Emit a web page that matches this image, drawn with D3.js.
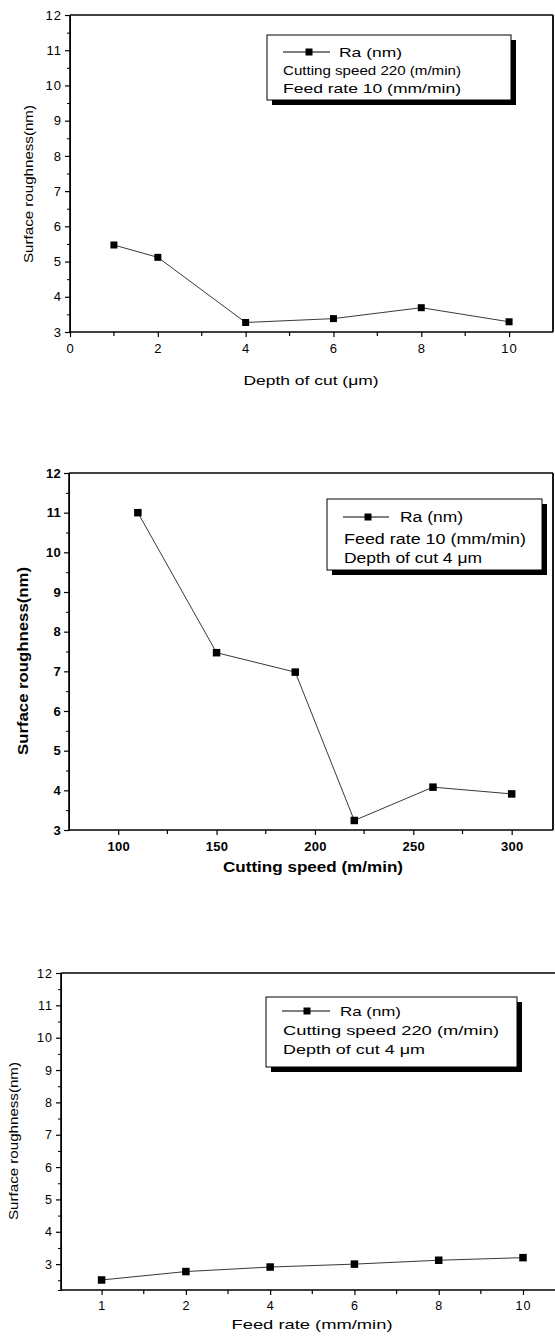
<!DOCTYPE html>
<html>
<head>
<meta charset="utf-8">
<script src="https://cdn.jsdelivr.net/npm/d3@7"></script>
<style>
body { margin: 0; background: #fff; }
svg { display: block; }
</style>
</head>
<body>
<div id="chart"></div>
<script>
// data
var depthX = [1, 2, 4, 6, 8, 10];
var depthRa = [5.47, 5.12, 3.27, 3.38, 3.69, 3.29];

var speedX = [110, 150, 190, 220, 260, 300];
var speedRa = [11.0, 7.47, 6.98, 3.24, 4.08, 3.91];

var feedX = ["1", "2", "4", "6", "8", "10"];
var feedRa = [2.51, 2.77, 2.91, 3.0, 3.12, 3.2];

var raTicks = [3, 4, 5, 6, 7, 8, 9, 10, 11, 12];
var depthTicks = [0, 2, 4, 6, 8, 10];
var speedTicks = [100, 150, 200, 250, 300];

var legendDepth = ["Ra (nm)", "Cutting speed 220 (m/min)", "Feed rate 10 (mm/min)"];
var legendSpeed = ["Ra (nm)", "Feed rate 10 (mm/min)", "Depth of cut 4 \u03bcm"];
var legendFeed = ["Ra (nm)", "Cutting speed 220 (m/min)", "Depth of cut 4 \u03bcm"];

function init() {
	var width = 555, height = 1339;
	var font = "'Liberation Sans', Arial, Helvetica, sans-serif";

	var svg = d3.select("#chart").append("svg")
		.attr("width", width)
		.attr("height", height)
		.style("font-family", font);

	function panel(p) {
		var g = svg.append("g");
		var x;
		if (p.point) {
			x = d3.scalePoint().domain(p.xs).range(p.xr);
		} else {
			x = d3.scaleLinear().domain(p.xd).range([p.left, p.right]);
		}
		var y = d3.scaleLinear().domain(p.yd).range([p.bottom, p.top]);
		var weight = p.bold ? "bold" : "normal";

		// frame
		g.append("line").attr("x1", p.left).attr("x2", p.frameRight)
			.attr("y1", p.top).attr("y2", p.top)
			.attr("stroke", "#000").attr("stroke-width", 1.6);
		if (p.frameRight < width) {
			g.append("line").attr("x1", p.frameRight).attr("x2", p.frameRight)
				.attr("y1", p.top).attr("y2", p.bottom)
				.attr("stroke", "#000").attr("stroke-width", 1.8);
		}

		// minor ticks
		var yMinor = d3.axisLeft(y).tickValues(p.yMinor).tickSize(3).tickFormat("");
		g.append("g").attr("transform", "translate(" + p.left + ",0)").call(yMinor);
		var gx2 = g.append("g").attr("transform", "translate(0," + p.bottom + ")");
		gx2.selectAll("line").data(p.xMinor).enter().append("line")
			.attr("x1", function(d) { return d; }).attr("x2", function(d) { return d; })
			.attr("y1", 0).attr("y2", 4)
			.attr("stroke", "#000").attr("stroke-width", 1.2);

		// major y axis
		var yAxis = d3.axisLeft(y).tickValues(raTicks).tickSize(5).tickPadding(3);
		var gy = g.append("g").attr("transform", "translate(" + p.left + ",0)").call(yAxis);
		gy.select(".domain").attr("d", "M0," + p.bottom + "V" + p.top).attr("stroke-width", 1.6);

		// major x axis
		var xAxis = d3.axisBottom(x).tickSize(5).tickPadding(p.xPad);
		if (!p.point) xAxis.tickValues(p.xTicks);
		var gx = g.append("g").attr("transform", "translate(0," + p.bottom + ")").call(xAxis);
		gx.select(".domain").attr("d", "M" + p.left + ",0H" + p.frameRight).attr("stroke-width", 1.6);

		[gx, gy].forEach(function(a) {
			a.selectAll(".tick line").attr("stroke-width", 1.2);
			a.selectAll("text")
				.style("font-family", font)
				.style("font-size", p.tickSize + "px")
				.style("font-weight", weight)
				.style("letter-spacing", p.tickSpacing + "px")
				.attr("fill", "#000");
		});

		// series
		var pts = p.xv.map(function(d, i) { return [x(d), y(p.yv[i])]; });
		g.append("path")
			.attr("d", d3.line()(pts))
			.attr("fill", "none")
			.attr("stroke", "#222")
			.attr("stroke-width", 0.9);
		g.selectAll("rect.pt").data(pts).enter().append("rect")
			.attr("class", "pt")
			.attr("x", function(d) { return d[0] - p.ms / 2; })
			.attr("y", function(d) { return d[1] - p.ms / 2; })
			.attr("width", p.ms).attr("height", p.ms)
			.attr("fill", "#000");

		// axis titles
		g.append("text")
			.attr("x", p.xl[0]).attr("y", p.xl[1])
			.attr("text-anchor", "middle")
			.attr("textLength", p.xl[2]).attr("lengthAdjust", "spacingAndGlyphs")
			.style("font-size", p.labelSize + "px")
			.style("font-weight", weight)
			.text(p.xTitle);
		g.append("text")
			.attr("transform", "translate(" + p.yl[0] + "," + p.yl[1] + ") rotate(-90)")
			.attr("text-anchor", "middle")
			.attr("dy", "0.35em")
			.attr("textLength", p.yl[2]).attr("lengthAdjust", "spacingAndGlyphs")
			.style("font-size", p.labelSize + "px")
			.style("font-weight", weight)
			.text("Surface roughness(nm)");

		// legend box with shadow
		var L = p.legend;
		g.append("rect").attr("x", L.x0 + 5).attr("y", L.y0 + 5)
			.attr("width", L.x1 - L.x0).attr("height", L.y1 - L.y0)
			.attr("fill", "#000");
		g.append("rect").attr("x", L.x0).attr("y", L.y0)
			.attr("width", L.x1 - L.x0).attr("height", L.y1 - L.y0)
			.attr("fill", "#fff").attr("stroke", "#000").attr("stroke-width", 1);
		g.append("line").attr("x1", L.sym[0]).attr("x2", L.sym[1])
			.attr("y1", L.rows[0]).attr("y2", L.rows[0])
			.attr("stroke", "#000").attr("stroke-width", 1);
		g.append("rect").attr("x", L.sym[2] - 3.5).attr("y", L.rows[0] - 3.5)
			.attr("width", 7).attr("height", 7).attr("fill", "#000");
		p.legendText.forEach(function(t, i) {
			g.append("text")
				.attr("x", L.tx[i]).attr("y", L.rows[i])
				.attr("dy", "0.36em")
				.attr("textLength", L.tw[i]).attr("lengthAdjust", "spacingAndGlyphs")
				.style("font-size", L.size + "px")
				.text(t);
		});
	}

	panel({
		left: 70, right: 553, frameRight: 553, top: 15, bottom: 332,
		xd: [0, 11], yd: [3, 12], xTicks: depthTicks,
		xMinor: [1, 3, 5, 7, 9].map(function(v) { return 70 + v * 483 / 11; }),
		yMinor: d3.range(3.5, 12, 1),
		xv: depthX, yv: depthRa, ms: 7,
		bold: false, tickSize: 13, tickSpacing: 1, xPad: 7, labelSize: 13,
		xTitle: "Depth of cut (\u03bcm)", xl: [311, 385, 135], yl: [28, 184, 158],
		legendText: legendDepth,
		legend: { x0: 267, y0: 35, x1: 511, y1: 100, size: 13,
			sym: [283, 330, 309], rows: [52, 70, 88],
			tx: [339, 283, 283], tw: [63, 178, 178] }
	});

	panel({
		left: 69, right: 553, frameRight: 553, top: 473, bottom: 830,
		xd: [75, 321], yd: [3, 12], xTicks: speedTicks,
		xMinor: [125, 175, 225, 275].map(function(v) { return 69 + (v - 75) * 484 / 246; }),
		yMinor: d3.range(3.5, 12, 1),
		xv: speedX, yv: speedRa, ms: 7.5,
		bold: true, tickSize: 13, tickSpacing: 0.3, xPad: 7, labelSize: 15,
		xTitle: "Cutting speed (m/min)", xl: [313, 872, 180], yl: [23, 661, 188],
		legendText: legendSpeed,
		legend: { x0: 327, y0: 499, x1: 542, y1: 570, size: 14,
			sym: [343, 389, 368], rows: [517, 539, 558],
			tx: [400, 344, 344], tw: [63, 182, 138] }
	});

	panel({
		point: true, xs: feedX, xr: [101.6, 523],
		left: 61, right: 560, frameRight: 560, top: 973, bottom: 1290,
		yd: [2.2, 12],
		xMinor: [0.5, 1.5, 2.5, 3.5, 4.5].map(function(v) { return 101.6 + v * 84.28; }),
		yMinor: d3.range(2.5, 12, 1),
		xv: feedX, yv: feedRa, ms: 7.5,
		bold: false, tickSize: 12.5, tickSpacing: 1, xPad: 6, labelSize: 13,
		xTitle: "Feed rate (mm/min)", xl: [312, 1329, 161], yl: [13, 1141, 158],
		legendText: legendFeed,
		legend: { x0: 266, y0: 997, x1: 517, y1: 1067, size: 13,
			sym: [282, 330, 307], rows: [1011, 1030, 1049],
			tx: [340, 283, 283], tw: [61, 216, 142] }
	});
}

window.onload = init;
</script>
</body>
</html>
